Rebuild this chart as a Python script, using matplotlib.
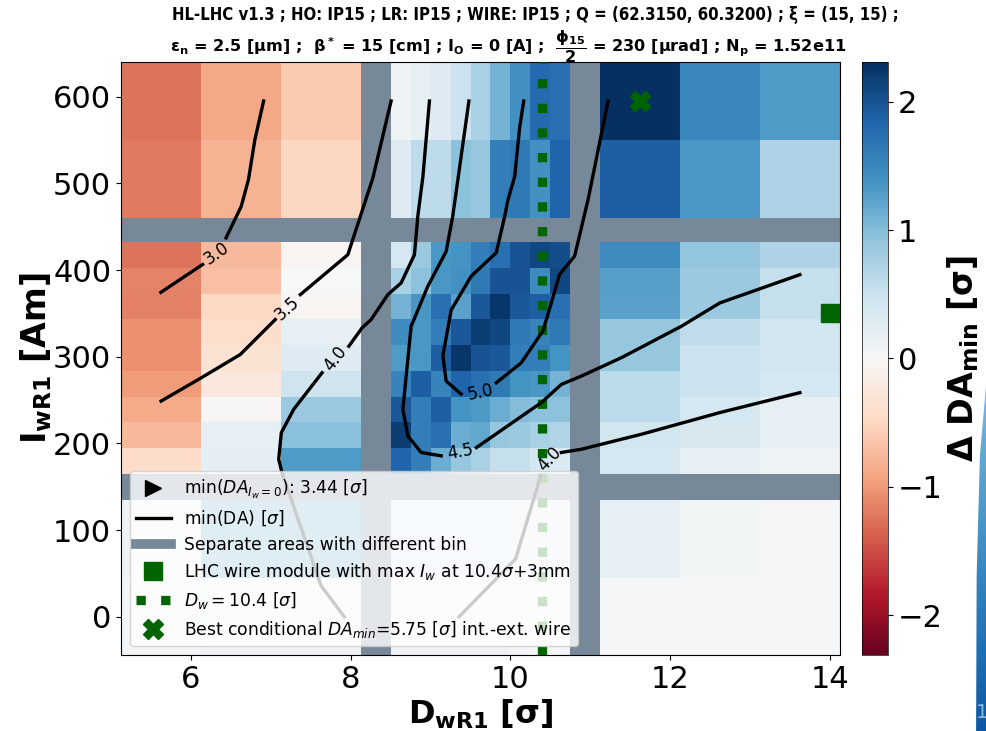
import numpy as np
import matplotlib.pyplot as plt
from matplotlib import font_manager
from matplotlib.lines import Line2D
from matplotlib.patches import Polygon

DA_REF = 3.44     # min(DA) without wire current
DA_BEST = 5.75    # best conditional min(DA)
D_WIRE = 10.4     # wire distance [sigma]
MODULE_D, MODULE_I = 14.0, 350
BEST_D, BEST_I = 11.625, 595

# cell edges; the 4th/14th column and 3rd/13th row are the gaps between binning areas
X_EDGES = [5.125, 6.125, 7.125, 8.125, 8.5, 8.75, 9.0, 9.25, 9.5, 9.75, 10.0,
           10.25, 10.5, 10.75, 11.125, 12.125, 13.125, 14.125]
Y_EDGES = [-45, 45, 135, 165, 194.7, 224.3, 254, 283.7, 313.3, 343, 372.7,
           402.3, 432, 460, 550, 640]
V_BANDS = [(8.125, 8.5), (10.75, 11.125)]
H_BANDS = [(135, 165), (432, 460)]

# delta min(DA) per cell, rows from I=595 down to I=0
DELTA = [
    [-1.25, -0.90, -0.60, 0.10, 0.20, 0.30, 0.50, 0.75, 1.10, 1.40, 1.80, 1.75, 2.31, 1.50, 1.30],
    [-1.22, -0.80, -0.50, 0.30, 0.60, 0.60, 0.95, 0.90, 1.60, 1.65, 1.40, 1.85, 1.90, 1.35, 0.72],
    [-1.25, -0.75, -0.05, 0.40, 0.85, 1.35, 1.38, 1.60, 1.75, 2.00, 2.10, 2.05, 1.45, 0.92, 0.72],
    [-1.15, -0.70, 0.01, 0.75, 0.95, 1.35, 1.40, 1.65, 2.00, 2.00, 1.45, 2.10, 1.28, 0.85, 0.55],
    [-1.17, -0.47, -0.05, 1.10, 1.35, 1.75, 1.25, 1.95, 2.25, 1.95, 1.90, 1.75, 1.25, 0.85, 0.55],
    [-1.05, -0.42, 0.20, 1.45, 1.35, 1.60, 1.95, 2.20, 2.10, 1.65, 1.55, 1.65, 0.90, 0.58, 0.45],
    [-1.05, -0.33, 0.30, 1.30, 1.35, 1.90, 2.25, 2.00, 1.95, 1.60, 1.60, 1.38, 0.90, 0.50, 0.45],
    [-0.98, -0.25, 0.48, 1.55, 1.90, 1.55, 1.85, 1.75, 1.65, 1.38, 1.35, 1.10, 0.62, 0.50, 0.40],
    [-0.88, -0.03, 0.85, 1.95, 1.60, 1.90, 1.38, 1.32, 1.15, 1.00, 0.95, 0.95, 0.62, 0.40, 0.20],
    [-0.75, 0.20, 0.97, 2.20, 1.60, 1.75, 1.15, 1.20, 0.90, 0.85, 0.75, 0.70, 0.45, 0.38, 0.20],
    [-0.45, 0.22, 1.30, 1.85, 1.60, 1.15, 0.90, 0.75, 0.55, 0.55, 0.40, 0.35, 0.40, 0.20, 0.12],
    [0.10, 1.20, 1.20, 0.40, 0.40, 0.40, 0.40, 0.35, 0.35, 0.30, 0.30, 0.30, 0.20, 0.06, 0.05],
    [0.05, 0.10, 0.10, 0.10, 0.10, 0.10, 0.10, 0.10, 0.10, 0.05, 0.05, 0.05, 0.03, 0.02, 0.02],
]

# min(DA) iso-lines (D [sigma], I [Am]); nan breaks leave room for the labels
nan = np.nan
C30_D = [5.624, 6.146, nan, 6.44, 6.63, 6.72, 6.80, 6.91]
C30_I = [374.3, 406.4, nan, 437.1, 473.5, 504.1, 550, 595]
C35_D = [5.627, 6.096, 6.618, 7.056, nan, 7.37, 7.964, 8.277, 8.506]
C35_I = [248.9, 273.9, 302.6, 342.9, nan, 371.7, 417.7, 506, 595]
C40_D = [8.986, 8.904, 8.84, 8.798, 8.632, 8.465, 8.256, 8.143, 7.977, nan,
         7.642, 7.287, 7.132, 7.099, 7.14, 7.629, 7.92, nan,
         9.355, 10.064, 10.378, nan, 10.637, 10.887, 11.639, 12.62, 13.623]
C40_I = [595, 507.8, 461.8, 417.7, 385.2, 371.7, 342.9, 333.4, 312.2, nan,
         281.6, 239.4, 212.5, 181.8, 166.5, 36, 0, nan,
         0, 66.7, 162.6, nan, 189.6, 193.3, 210.6, 235.6, 258.6]
C45_D = [9.48, 9.277, 9.195, 8.965, 8.757, 8.653, 8.715, 8.882, 9.133, nan,
         9.574, 10.386, 10.637, 10.887, 11.388, 12.14, 12.62, 13.623]
C45_I = [595, 461.8, 421.5, 381.2, 335.2, 239.4, 208.7, 189.6, 185.7, nan,
         195.3, 247.1, 268.1, 277.7, 298.9, 335.2, 362.1, 394.7]
C50_D = [10.166, 10.116, 10.053, 9.969, 9.928, 9.822, 9.509, 9.258, 9.154, 9.195, 9.383, nan,
         9.822, 10.135, 10.407, 10.511, 10.615, 10.803, 10.971, 11.222]
C50_I = [595, 565, 508, 481, 462, 420, 393, 354, 301, 272, 257, nan,
         270, 293, 330, 362, 395, 416, 481, 595]

LABEL_LEVELS = [3.0, 3.5, 4.0, 4.0, 4.5, 5.0]
LABEL_D = [6.32, 7.21, 7.81, 10.49, 9.37, 9.63]
LABEL_I = [419, 356, 298, 182, 190, 259]
LABEL_ROT = [35, 42, 52, 47, 10, 12]

GRAY = 'lightslategray'
GREEN = 'darkgreen'

# narrow bold face for the first header line, if one is installed
narrow = any(f.name == 'DejaVu Sans' and f.stretch == 'condensed'
             for f in font_manager.fontManager.ttflist)
head_kw = dict(fontweight='bold', fontsize=12, family='DejaVu Sans')
if narrow:
    head_kw['fontstretch'] = 'condensed'

fig = plt.figure(figsize=(9.86, 7.31), dpi=100)
ax = fig.add_axes([121 / 986, 1 - 655 / 731, 719 / 986, 593 / 731])
cax = fig.add_axes([862 / 986, 1 - 655 / 731, 26 / 986, 593 / 731])

grid = np.flipud(np.array(DELTA, dtype=float))
grid = np.insert(grid, [3, 12], np.nan, axis=1)
grid = np.insert(grid, [2, 11], np.nan, axis=0)
vmax = DA_BEST - DA_REF
mesh = ax.pcolormesh(X_EDGES, Y_EDGES, np.ma.masked_invalid(grid), cmap='RdBu',
                     vmin=-vmax, vmax=vmax, zorder=1)

for lo, hi in V_BANDS:
    ax.axvspan(lo, hi, color=GRAY, lw=0, zorder=2)
for lo, hi in H_BANDS:
    ax.axhspan(lo, hi, color=GRAY, lw=0, zorder=2)

ax.axvline(D_WIRE, color=GREEN, ls=':', lw=6.7, zorder=3)

for cd, ci in [(C30_D, C30_I), (C35_D, C35_I), (C40_D, C40_I), (C45_D, C45_I), (C50_D, C50_I)]:
    ax.plot(cd, ci, color='k', lw=2.4, zorder=4)
for lvl, d, i, rot in zip(LABEL_LEVELS, LABEL_D, LABEL_I, LABEL_ROT):
    ax.text(d, i, f'{lvl:.1f}', fontsize=12, ha='center', va='center',
            rotation=rot, rotation_mode='anchor', zorder=4)

ax.plot([MODULE_D], [MODULE_I], 's', color=GREEN, ms=13, zorder=5)
ax.plot([BEST_D], [BEST_I], 'X', color=GREEN, ms=15, zorder=5)

ax.set_xlim(5.125, 14.125)
ax.set_ylim(-44, 640)
ax.set_xticks([6, 8, 10, 12, 14])
ax.set_yticks([0, 100, 200, 300, 400, 500, 600])
ax.tick_params(labelsize=22)
ax.set_xlabel(r'$\mathbf{D_{wR1}\ [\sigma]}$', fontsize=23, labelpad=3)
ax.set_ylabel(r'$\mathbf{I_{wR1}}$ [Am]', fontsize=24, fontweight='bold', labelpad=-1)

handles = [
    Line2D([], [], ls='none', marker='>', color='k', ms=11),
    Line2D([], [], color='k', lw=2.4),
    Line2D([], [], color=GRAY, lw=7),
    Line2D([], [], ls='none', marker='s', color=GREEN, ms=13),
    Line2D([], [], ls=':', color=GREEN, lw=6.7),
    Line2D([], [], ls='none', marker='X', color=GREEN, ms=15),
]
labels = [
    r'min($DA_{I_w=0}$): ' + f'{DA_REF:.2f}' + r' [$\sigma$]',
    r'min(DA) [$\sigma$]',
    'Separate areas with different bin',
    r'LHC wire module with max $I_w$ at ' + f'{D_WIRE}' + r'$\sigma$+3mm',
    r'$D_w = $' + f'{D_WIRE}' + r' [$\sigma$]',
    r'Best conditional $DA_{min}$=' + f'{DA_BEST:.2f}' + r' [$\sigma$] int.-ext. wire',
]
leg = ax.legend(handles, labels, loc='lower left', fontsize=12.3, framealpha=0.8,
                labelspacing=0.45)
leg.set_zorder(10)

cb = fig.colorbar(mesh, cax=cax, ticks=[-2, -1, 0, 1, 2])
cb.ax.tick_params(labelsize=22)
cb.outline.set_linewidth(0.5)
cb.set_label(r'$\mathbf{\Delta\ DA_{min}\ [\sigma]}$', fontsize=24, labelpad=2)

fig.text(172 / 986, 1 - 15 / 731,
         'HL-LHC v1.3 ; HO: IP15 ; LR: IP15 ; WIRE: IP15 ; Q = (62.3150, 60.3200) ; ξ = (15, 15) ;',
         ha='left', va='center', **head_kw)
fig.text(170 / 986, 1 - 47 / 731,
         r'$\mathbf{\epsilon_n}$ = 2.5 [μm] ;  $\mathbf{\beta^*}$ = 15 [cm] ; $\mathbf{I_O}$ = 0 [A] ;  '
         r'$\dfrac{\mathbf{\phi_{15}}}{\mathbf{2}}$ = 230 [μrad] ; $\mathbf{N_p}$ = 1.52e11',
         ha='left', va='center', fontweight='bold', fontsize=11.6)

# edge of the neighbouring panel peeking in at the right border
edge = fig.add_axes([975 / 986, 0, 11 / 986, 345 / 731])
edge.set_axis_off()
shade = np.linspace(0.45, 0.85, 100)[:, None]
img = edge.imshow(shade, cmap='Blues', vmin=0, vmax=1, aspect='auto',
                  extent=[0, 1, 0, 1], origin='upper')
img.set_clip_path(Polygon([[1, 1], [0.45, 0.8], [0.15, 0.45], [0.1, 0], [1, 0]],
                          closed=True, transform=edge.transAxes))
fig.text(976 / 986, 1 - 713 / 731, '1', fontsize=14, color='#8fb8d8', va='center')

fig.savefig('out.png', dpi=100)
